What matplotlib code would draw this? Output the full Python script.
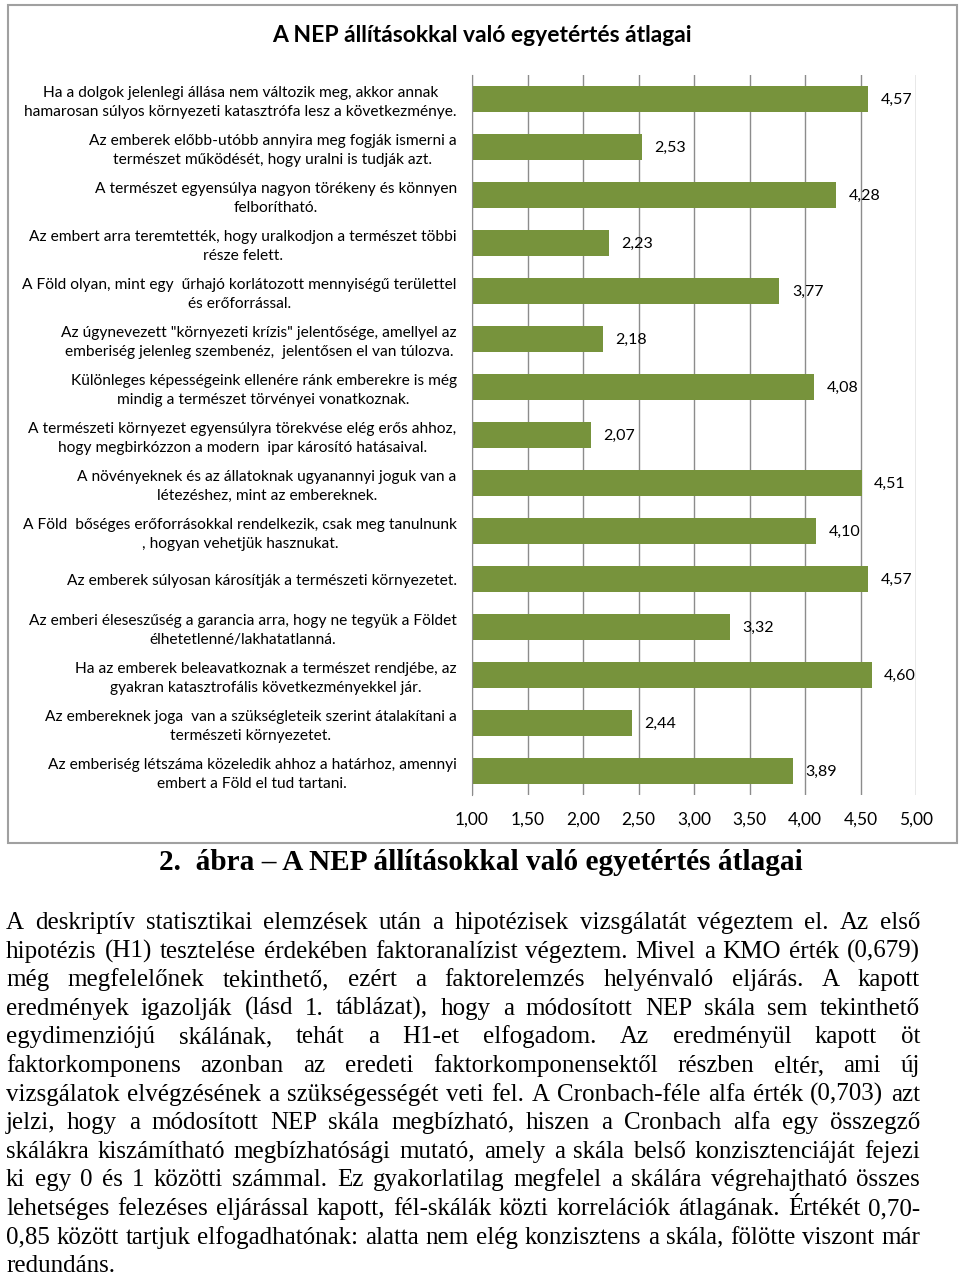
import matplotlib
matplotlib.use("Agg")
import matplotlib.pyplot as plt
from matplotlib.patches import Rectangle
import numpy as np

W, H = 960, 1276

chart_title = "A NEP állításokkal való egyetértés átlagai"
caption = "2.  ábra – A NEP állításokkal való egyetértés átlagai"

statements = [
    "Ha a dolgok jelenlegi állása nem változik meg, akkor annak\nhamarosan súlyos környezeti katasztrófa lesz a következménye.",
    "Az emberek előbb-utóbb annyira meg fogják ismerni a\ntermészet működését, hogy uralni is tudják azt.",
    "A természet egyensúlya nagyon törékeny és könnyen\nfelborítható.",
    "Az embert arra teremtették, hogy uralkodjon a természet többi\nrésze felett.",
    "A Föld olyan, mint egy  űrhajó korlátozott mennyiségű területtel\nés erőforrással.",
    "Az úgynevezett \"környezeti krízis\" jelentősége, amellyel az\nemberiség jelenleg szembenéz,  jelentősen el van túlozva.",
    "Különleges képességeink ellenére ránk emberekre is még\nmindig a természet törvényei vonatkoznak.",
    "A természeti környezet egyensúlyra törekvése elég erős ahhoz,\nhogy megbirkózzon a modern  ipar károsító hatásaival.",
    "A növényeknek és az állatoknak ugyanannyi joguk van a\nlétezéshez, mint az embereknek.",
    "A Föld  bőséges erőforrásokkal rendelkezik, csak meg tanulnunk\n, hogyan vehetjük hasznukat.",
    "Az emberek súlyosan károsítják a természeti környezetet.",
    "Az emberi éleseszűség a garancia arra, hogy ne tegyük a Földet\nélhetetlenné/lakhatatlanná.",
    "Ha az emberek beleavatkoznak a természet rendjébe, az\ngyakran katasztrofális következményekkel jár.",
    "Az embereknek joga  van a szükségleteik szerint átalakítani a\ntermészeti környezetet.",
    "Az emberiség létszáma közeledik ahhoz a határhoz, amennyi\nembert a Föld el tud tartani.",
]
means = [4.57, 2.53, 4.28, 2.23, 3.77, 2.18, 4.08, 2.07, 4.51, 4.10, 4.57, 3.32, 4.60, 2.44, 3.89]
xticks = [1.0, 1.5, 2.0, 2.5, 3.0, 3.5, 4.0, 4.5, 5.0]

paragraph = [
    "A deskriptív statisztikai elemzések után a hipotézisek vizsgálatát végeztem el. Az első",
    "hipotézis (H1) tesztelése érdekében faktoranalízist végeztem. Mivel a KMO érték (0,679)",
    "még megfelelőnek tekinthető, ezért a faktorelemzés helyénvaló eljárás. A kapott",
    "eredmények igazolják (lásd 1. táblázat), hogy a módosított NEP skála sem tekinthető",
    "egydimenziójú skálának, tehát a H1-et elfogadom. Az eredményül kapott öt",
    "faktorkomponens azonban az eredeti faktorkomponensektől részben eltér, ami új",
    "vizsgálatok elvégzésének a szükségességét veti fel. A Cronbach-féle alfa érték (0,703) azt",
    "jelzi, hogy a módosított NEP skála megbízható, hiszen a Cronbach alfa egy összegző",
    "skálákra kiszámítható megbízhatósági mutató, amely a skála belső konzisztenciáját fejezi",
    "ki egy 0 és 1 közötti számmal. Ez gyakorlatilag megfelel a skálára végrehajtható összes",
    "lehetséges felezéses eljárással kapott, fél-skálák közti korrelációk átlagának. Értékét 0,70-",
    "0,85 között tartjuk elfogadhatónak: alatta nem elég konzisztens a skála, fölötte viszont már",
    "redundáns.",
]

bar_color = "#77933c"
grid_color = "#8c8c8c"
sans = "Lato"
serif = "Liberation Serif"


def fx(px):
    return px / W


def fy(py):
    return 1 - py / H


fig = plt.figure(figsize=(W / 100, H / 100), dpi=100)
fig.patch.set_facecolor("white")

# chart frame
fig.patches.append(Rectangle((fx(8), fy(843)), fx(957) - fx(8), fy(5) - fy(843),
                             transform=fig.transFigure, fill=False, ec="#a0a0a0", lw=1.5))

fig.text(fx(482), fy(36), chart_title, ha="center", va="center",
         fontsize=16.5, weight="bold", family=sans)

ax = fig.add_axes([fx(472), fy(795), fx(916) - fx(472), fy(75) - fy(795)])
pos = np.arange(len(means))
ax.barh(pos, means, height=0.56, color=bar_color, zorder=2)
ax.set_xlim(1, 5)
ax.set_ylim(len(means) - 0.5, -0.5)

for p, v in zip(pos, means):
    ax.annotate(f"{v:.2f}".replace(".", ","), xy=(v, p), xytext=(9, -1),
                textcoords="offset points", va="center", ha="left",
                fontsize=11.5, family=sans, color="#000000")

ax.set_yticks(pos)
ax.set_yticklabels(statements, multialignment="center", linespacing=1.38,
                   fontsize=11.2, family=sans)
ax.set_xticks(xticks)
ax.set_xticklabels([f"{t:.2f}".replace(".", ",") for t in xticks],
                   fontsize=12.5, family=sans)
ax.tick_params(axis="y", length=0, pad=11)
ax.tick_params(axis="x", length=0, pad=12)
ax.grid(axis="x", color=grid_color, lw=1, zorder=0)
ax.set_axisbelow(True)
for s in ["top", "right", "bottom"]:
    ax.spines[s].set_visible(False)
ax.spines["left"].set_color(grid_color)
ax.spines["left"].set_zorder(3)

# caption and justified body text
renderer = fig.canvas.get_renderer()


def text_width(s, size, weight="normal"):
    t = fig.text(0, 0, s, fontsize=size, family=serif, weight=weight)
    w = t.get_window_extent(renderer).width
    t.remove()
    return w


cap_size = 16 * 643 / text_width(caption, 16, "bold")
fig.text(fx(481), fy(862), caption, ha="center", va="center",
         fontsize=cap_size, weight="bold", family=serif)

left_px, right_px = 6, 920
base = 16
widest = max(text_width(line, base) for line in paragraph)
body_size = base * (right_px - left_px) * 0.995 / widest

for k, line in enumerate(paragraph):
    y = fy(929 + 28.6 * k)
    words = line.split()
    if k == len(paragraph) - 1 or len(words) < 2:
        fig.text(fx(left_px), y, line, ha="left", va="baseline",
                 fontsize=body_size, family=serif)
        continue
    widths = [text_width(w, body_size) for w in words]
    gap = (right_px - left_px - sum(widths)) / (len(words) - 1)
    x = left_px
    for w, ww in zip(words, widths):
        fig.text(fx(x), y, w, ha="left", va="baseline",
                 fontsize=body_size, family=serif)
        x += ww + gap

fig.savefig("out.png", dpi=100, facecolor="white")
